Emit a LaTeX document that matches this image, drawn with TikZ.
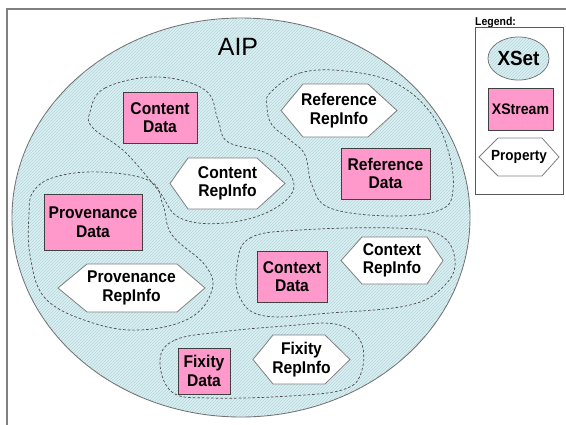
\documentclass[tikz,border=0pt]{standalone}
\usepackage{fontspec}
\setmainfont{Liberation Sans}
\newfontfamily\labfont{Liberation Sans}[FakeStretch=0.92]
\usetikzlibrary{patterns}
\definecolor{aipbase}{HTML}{DDF1F4}
\definecolor{hatch}{HTML}{B0D4DA}
\definecolor{pinkx}{HTML}{FF99CC}
\definecolor{frameg}{HTML}{808080}
\tikzset{
  hatched/.style={fill=aipbase, draw=frameg!90!black, line width=0.9pt},
  blob/.style={draw=black!70, line width=0.7pt, dash pattern=on 2.6pt off 2pt},
  xstream/.style={draw=black!75, fill=pinkx, line width=0.8pt, minimum width=#1, inner sep=0pt},
  lbl/.style={font=\labfont\bfseries\fontsize{17}{18.5}\selectfont, align=center, inner sep=0pt, text=black},
  prop/.style={draw=black!50, fill=white, line width=0.8pt},
}
\newcommand\hexa[8]{%
  \draw[prop] (#2,{(#6+#7)/2}) -- (#3,#6) -- (#4,#6) -- (#5,{(#6+#7)/2}) -- (#4,#7) -- (#3,#7) -- cycle;
  \node[lbl] (#1) at ({(#2+#5)/2},{(#6+#7)/2}) {#8};}
\begin{document}
\begin{tikzpicture}[x=1pt,y=-1pt]
\useasboundingbox (0,0) rectangle (566,424);
\fill[white] (0,0) rectangle (566,424);
% frame
\draw[frameg, line width=1.2pt] (7,430) -- (7,9) -- (570,9);
% AIP ellipse
\path[hatched] (241,217.5) ellipse [x radius=229, y radius=199.5];
\fill[pattern=north east lines, pattern color=hatch] (241,217.5) ellipse [x radius=228.5, y radius=199];
\node[font=\fontsize{25}{28}\selectfont, inner sep=0pt] (aip) at (238,47) {AIP};
% blobs
\draw[blob] plot[smooth cycle, tension=0.65] coordinates {(90,112) (105,88) (157,77) (205,90) (218,120) (228,142) (270,155) (294,185) (272,210) (225,223) (180,218) (158,190) (125,152) (93,128)};
\draw[blob] plot[smooth cycle, tension=0.65] coordinates {(270,93) (300,73) (345,71) (395,83) (430,112) (448,150) (453,190) (440,210) (390,216) (330,208) (312,185) (305,155) (290,140) (272,125) (267,107)};
\draw[blob] plot[smooth cycle, tension=0.65] coordinates {(33,192) (55,177) (100,172) (150,181) (163,205) (172,235) (205,265) (212,290) (190,318) (140,330) (90,322) (45,298) (30,255) (29,215)};
\draw[blob] plot[smooth cycle, tension=0.65] coordinates {(237,265) (250,238) (300,230) (395,228) (440,235) (455,260) (445,285) (410,305) (330,313) (265,316) (240,298)};
\draw[blob] plot[smooth cycle, tension=0.65] coordinates {(160,360) (175,340) (220,332) (285,326) (335,324) (360,340) (362,370) (345,389) (290,396) (210,398) (172,392)};
% data boxes
\node[xstream=74pt, minimum height=51pt] (cdbox) at (160,117.5) {};
\node[lbl] (cd) at (cdbox) {Content\\Data};
\node[xstream=89pt, minimum height=51pt] (rdbox) at (385.5,173.5) {};
\node[lbl] (rd) at (rdbox) {Reference\\Data};
\node[xstream=98pt, minimum height=56pt] (pdbox) at (93,222) {};
\node[lbl] (pd) at (pdbox) {Provenance\\Data};
\node[xstream=70pt, minimum height=51pt] (xdbox) at (292,276.5) {};
\node[lbl] (xd) at (xdbox) {Context\\Data};
\node[xstream=52pt, minimum height=46pt] (fdbox) at (204,371) {};
\node[lbl] (fd) at (fdbox) {Fixity\\Data};
% rep info hexagons
\hexa{cr}{170}{188}{257}{285}{158}{209}{Content\\RepInfo}
\hexa{rr}{281}{303}{368}{397}{84}{137}{Reference\\RepInfo}
\hexa{pr}{58}{87}{177}{205}{264}{312}{Provenance\\RepInfo}
\hexa{xr}{341}{362}{427}{443}{237}{284}{Context\\RepInfo}
\hexa{fr}{253}{273}{325}{350}{335}{384}{Fixity\\RepInfo}
% legend
\node[font=\labfont\bfseries\fontsize{11.4}{12}\selectfont, inner sep=0pt, anchor=west] (legt) at (475,23) {Legend:};
\node[draw=black!65, line width=0.8pt, minimum width=88pt, minimum height=167pt, inner sep=0pt] (legbox) at (519.5,110.5) {};
\path[hatched, line width=0.8pt] (518.5,58.5) ellipse [x radius=30.5, y radius=21.5];
\fill[pattern=north east lines, pattern color=hatch] (518.5,58.5) ellipse [x radius=30, y radius=21];
\node[font=\labfont\bfseries\fontsize{20.5}{22}\selectfont, inner sep=0pt] (xset) at (518.5,58.5) {XSet};
\node[xstream=65pt, minimum height=42pt] (xsbox) at (520.5,109) {};
\node[font=\labfont\bfseries\fontsize{15.3}{16}\selectfont, inner sep=0pt] (xs) at (xsbox) {XStream};
\hexa{pp}{479}{498}{542}{559}{138}{176}{}
\node[font=\labfont\bfseries\fontsize{14.7}{16}\selectfont, inner sep=0pt] (ppt) at (pp) {Property};
\end{tikzpicture}
\end{document}
